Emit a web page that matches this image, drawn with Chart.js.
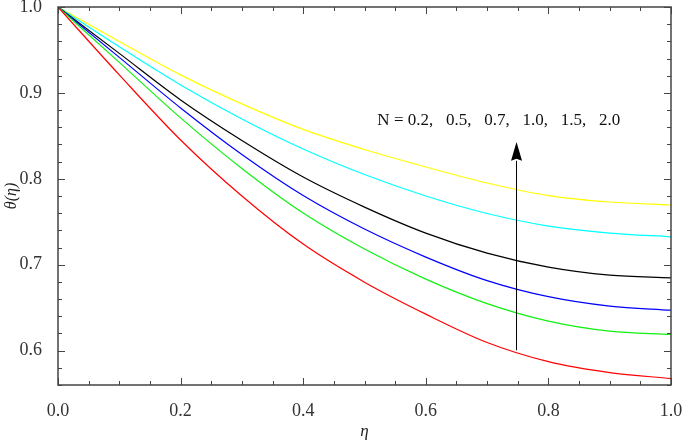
<!DOCTYPE html>
<html>
<head>
<meta charset="utf-8">
<script src="https://cdn.jsdelivr.net/npm/chart.js@4.4.1/dist/chart.umd.min.js"></script>
<style>
  html, body { margin: 0; padding: 0; background: #fff; }
  #wrap { width: 685px; height: 442px; }
</style>
</head>
<body>
<div id="wrap"><canvas id="grafico"></canvas></div>
<script>
// ── Dados ─────────────────────────────────
const eta = [0.0, 0.1, 0.2, 0.3, 0.4, 0.5, 0.6, 0.7, 0.8, 0.9, 1.0];
const nValues = ['0.2', '0.5', '0.7', '1.0', '1.5', '2.0'];
const thetaN02 = [1.0, 0.9210, 0.8452, 0.7800, 0.7240, 0.6797, 0.6425, 0.6095, 0.5872, 0.5745, 0.5675];
const thetaN05 = [1.0, 0.9355, 0.8709, 0.8120, 0.7601, 0.7182, 0.6832, 0.6547, 0.6343, 0.6226, 0.6188];
const thetaN07 = [1.0, 0.9414, 0.8825, 0.8283, 0.7805, 0.7415, 0.7089, 0.6815, 0.6628, 0.6518, 0.6471];
const thetaN10 = [1.0, 0.9460, 0.8918, 0.8446, 0.8021, 0.7671, 0.7368, 0.7135, 0.6972, 0.6879, 0.6847];
const thetaN15 = [1.0, 0.9536, 0.9093, 0.8697, 0.8347, 0.8050, 0.7800, 0.7596, 0.7450, 0.7368, 0.7325];
const thetaN20 = [1.0, 0.9598, 0.9210, 0.8872, 0.8575, 0.8341, 0.8138, 0.7951, 0.7805, 0.7730, 0.7695];
const xTicks = [0.0, 0.2, 0.4, 0.6, 0.8, 1.0];
const yTicks = [0.6, 0.7, 0.8, 0.9, 1.0];

const series = [thetaN02, thetaN05, thetaN07, thetaN10, thetaN15, thetaN20];
const cores  = ['#ff0000', '#11f011', '#0000ff', '#000000', '#00ffff', '#ffff00'];

const SERIF = '"Liberation Serif", "Times New Roman", serif';
const AXIS_COLOR = '#444';

// ── Moldura, marcas internas e seta ───────
const molduraPlugin = {
  id: 'moldura',
  afterDraw(chart) {
    const { ctx, chartArea: a, scales: { x, y } } = chart;
    ctx.save();
    ctx.strokeStyle = AXIS_COLOR;
    ctx.lineWidth = 1.5;
    ctx.strokeRect(a.left, a.top, a.right - a.left, a.bottom - a.top);
    ctx.lineWidth = 1;
    ctx.beginPath();
    for (let i = 0; i <= 20; i++) {
      const px = Math.round(x.getPixelForValue(i * 0.05)) + 0.5;
      const len = i % 4 === 0 ? 7 : 4;
      ctx.moveTo(px, a.bottom); ctx.lineTo(px, a.bottom - len);
      ctx.moveTo(px, a.top);    ctx.lineTo(px, a.top + len);
    }
    for (let i = 28; i <= 50; i++) {
      const py = Math.round(y.getPixelForValue(i * 0.02)) + 0.5;
      const len = i % 5 === 0 ? 7 : 4;
      ctx.moveTo(a.left, py);  ctx.lineTo(a.left + len, py);
      ctx.moveTo(a.right, py); ctx.lineTo(a.right - len, py);
    }
    ctx.stroke();

    // seta indicando aumento de N
    const ax = x.getPixelForValue(0.748);
    const y0 = y.getPixelForValue(0.6005);
    const yBase = y.getPixelForValue(0.821);
    const yTip = y.getPixelForValue(0.843);
    ctx.strokeStyle = '#000';
    ctx.fillStyle = '#000';
    ctx.beginPath();
    ctx.moveTo(ax, y0); ctx.lineTo(ax, yBase);
    ctx.stroke();
    ctx.beginPath();
    ctx.moveTo(ax, yTip);
    ctx.lineTo(ax - 5.5, yBase);
    ctx.lineTo(ax, yBase - 2);
    ctx.lineTo(ax + 5.5, yBase);
    ctx.closePath();
    ctx.fill();

    ctx.font = '17px ' + SERIF;
    ctx.fillStyle = '#111';
    ctx.textBaseline = 'alphabetic';
    ctx.textAlign = 'left';
    ctx.fillText('N = ' + nValues.join(',\u2002 '), x.getPixelForValue(0.521), y.getPixelForValue(0.8626));
    ctx.restore();
  }
};

new Chart(document.getElementById('grafico').getContext('2d'), {
  type: 'line',
  data: {
    labels: eta,
    datasets: series.map((s, i) => ({
      label: 'N = ' + nValues[i],
      data: s.map((v, k) => ({ x: eta[k], y: v })),
      borderColor: cores[i],
      borderWidth: 1.2,
      pointRadius: 0,
      fill: false,
      cubicInterpolationMode: 'monotone'
    }))
  },
  options: {
    responsive: true,
    maintainAspectRatio: false,
    animation: false,
    layout: { padding: { left: 0, top: 7, right: 14, bottom: 0 } },
    plugins: { legend: { display: false }, tooltip: { enabled: false } },
    scales: {
      x: {
        type: 'linear', min: 0, max: 1,
        afterBuildTicks: s => { s.ticks = xTicks.map(v => ({ value: v })); },
        afterFit: s => { s.height = 57; s.paddingLeft = 0; s.paddingRight = 0; },
        grid: { display: false },
        border: { display: false },
        ticks: { color: '#333', padding: 7, maxRotation: 0, font: { family: SERIF, size: 18 }, callback: v => v.toFixed(1) },
        title: { display: true, text: 'η', color: '#222', padding: 0, font: { family: SERIF, size: 17, style: 'italic' } }
      },
      y: {
        type: 'linear', min: 0.56, max: 1.0,
        afterBuildTicks: s => { s.ticks = yTicks.map(v => ({ value: v })); },
        afterFit: s => { s.width = 58; s.paddingTop = 0; s.paddingBottom = 0; },
        grid: { display: false },
        border: { display: false },
        ticks: { color: '#333', padding: 8, font: { family: SERIF, size: 18 }, callback: v => v.toFixed(1) },
        title: { display: true, text: 'θ(η)', color: '#222', padding: 2, font: { family: SERIF, size: 16, style: 'italic' } }
      }
    }
  },
  plugins: [molduraPlugin]
});
</script>
</body>
</html>
